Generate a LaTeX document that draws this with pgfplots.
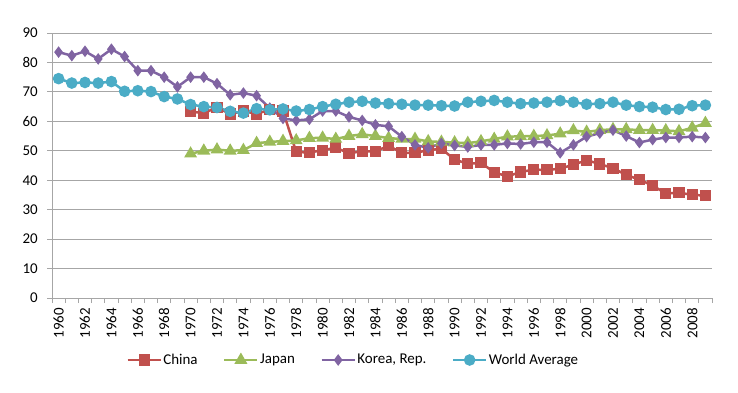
\documentclass[border=0pt]{standalone}
\usepackage{fontspec}
\setmainfont{Carlito}
\usepackage{pgfplots}
\pgfplotsset{compat=1.18}
\definecolor{cChina}{HTML}{C0504D}
\definecolor{cJapan}{HTML}{9BBB59}
\definecolor{cKorea}{HTML}{8064A2}
\definecolor{cWorld}{HTML}{4BACC6}
\definecolor{gridc}{HTML}{A6A6A6}
\begin{document}
\fontsize{15}{17}\selectfont
\begin{tikzpicture}
\useasboundingbox (0,0) rectangle (738bp,393bp);
\begin{axis}[
  at={(52bp,95bp)}, anchor=south west,
  scale only axis, width=660bp, height=265bp,
  xmin=1959.5, xmax=2009.5, ymin=0, ymax=90,
  ytick={0,10,...,90},
  xtick={1960,1962,...,2008},
  minor xtick={1959.5,1960.5,...,2009.5},
  xticklabel style={rotate=90, anchor=east, font=\fontsize{15}{17}\selectfont},
  yticklabel style={font=\fontsize{15}{17}\selectfont},
  /pgf/number format/assume math mode=true,
  /pgf/number format/1000 sep={},
  axis x line*=bottom, axis y line*=left,
  axis line style={gridc, line width=0.8pt, -},
  major tick length=0pt,
  minor tick length=5bp,
  every tick/.style={gridc, line width=0.8pt},
  xtick align=outside, ytick align=outside,
  extra y ticks={0,10,...,90}, extra y tick labels={},
  extra y tick style={major tick length=5bp, grid=major, tick align=outside},
  ymajorgrids, grid style={gridc, line width=0.8pt},
  xticklabel shift=5bp, yticklabel shift=9bp,
  legend style={at={(0.4561,-0.234)}, anchor=center, draw=none, legend columns=4,
    font=\fontsize{15}{17}\selectfont, inner sep=0pt,
    /tikz/every even column/.append style={column sep=24bp},
    /tikz/every odd column/.append style={column sep=0bp},
    nodes={inner sep=1.5bp}},
  legend image code/.code={\draw[mark repeat=2,mark phase=2,#1] plot coordinates {(0bp,0bp)(16.5bp,0bp)(33bp,0bp)};},
]
\addplot[cChina, line width=2.5pt, mark=square*, mark size=4.3bp, mark options={solid}] coordinates {
(1970,63.3)(1971,62.8)(1972,64.7)(1973,62.5)(1974,63.5)(1975,62.5)(1976,64.0)(1977,63.5)(1978,49.6)(1979,49.4)
(1980,50.2)(1981,51.0)(1982,49.2)(1983,49.8)(1984,49.8)(1985,51.7)(1986,49.3)(1987,49.3)(1988,50.2)(1989,50.7)
(1990,47.0)(1991,45.6)(1992,45.9)(1993,42.7)(1994,41.3)(1995,42.8)(1996,43.6)(1997,43.5)(1998,43.9)(1999,45.3)
(2000,46.8)(2001,45.5)(2002,44.1)(2003,41.8)(2004,40.2)(2005,38.2)(2006,35.5)(2007,35.8)(2008,35.0)(2009,34.8)};
\addlegendentry{China}
\addplot[cJapan, line width=2.5pt, mark=triangle*, mark size=5bp, mark options={solid}] coordinates {
(1970,49.0)(1971,50.0)(1972,50.4)(1973,50.0)(1974,50.2)(1975,52.6)(1976,53.0)(1977,53.3)(1978,53.5)(1979,54.3)
(1980,54.4)(1981,54.0)(1982,55.0)(1983,55.6)(1984,55.0)(1985,54.3)(1986,54.0)(1987,54.0)(1988,53.2)(1989,53.0)
(1990,52.8)(1991,52.6)(1992,53.2)(1993,54.0)(1994,54.8)(1995,54.9)(1996,55.0)(1997,55.2)(1998,55.8)(1999,56.9)
(2000,56.4)(2001,57.0)(2002,57.3)(2003,57.3)(2004,57.0)(2005,57.0)(2006,56.9)(2007,56.6)(2008,57.8)(2009,59.4)};
\addlegendentry{Japan}
\addplot[cKorea, line width=2.5pt, mark=diamond*, mark size=3.8bp, mark options={solid}] coordinates {
(1960,83.5)(1961,82.3)(1962,83.8)(1963,81.2)(1964,84.5)(1965,82.0)(1966,77.2)(1967,77.2)(1968,75.0)(1969,71.7)
(1970,75.0)(1971,75.0)(1972,72.8)(1973,69.0)(1974,69.6)(1975,68.7)(1976,64.5)(1977,61.0)(1978,60.3)(1979,60.7)
(1980,63.5)(1981,63.5)(1982,61.5)(1983,60.3)(1984,58.8)(1985,58.3)(1986,54.8)(1987,52.0)(1988,51.0)(1989,52.5)
(1990,51.8)(1991,51.3)(1992,52.0)(1993,52.0)(1994,52.5)(1995,52.3)(1996,52.9)(1997,52.9)(1998,49.3)(1999,52.0)
(2000,54.8)(2001,56.0)(2002,57.0)(2003,55.0)(2004,52.8)(2005,53.8)(2006,54.5)(2007,54.5)(2008,54.8)(2009,54.5)};
\addlegendentry{Korea, Rep.}
\addplot[cWorld, line width=2.5pt, mark=*, mark size=4.5bp, mark options={solid}] coordinates {
(1960,74.5)(1961,73.0)(1962,73.2)(1963,73.0)(1964,73.5)(1965,70.2)(1966,70.4)(1967,70.1)(1968,68.4)(1969,67.6)
(1970,65.7)(1971,65.0)(1972,64.7)(1973,63.4)(1974,62.8)(1975,64.3)(1976,63.9)(1977,64.2)(1978,63.5)(1979,64.0)
(1980,65.0)(1981,65.8)(1982,66.5)(1983,66.8)(1984,66.2)(1985,66.0)(1986,65.8)(1987,65.5)(1988,65.5)(1989,65.3)
(1990,65.2)(1991,66.5)(1992,66.8)(1993,67.1)(1994,66.5)(1995,66.0)(1996,66.2)(1997,66.5)(1998,67.0)(1999,66.5)
(2000,65.8)(2001,66.0)(2002,66.5)(2003,65.5)(2004,65.0)(2005,64.8)(2006,64.0)(2007,64.1)(2008,65.3)(2009,65.5)};
\addlegendentry{World Average}
\end{axis}
\end{tikzpicture}
\end{document}
